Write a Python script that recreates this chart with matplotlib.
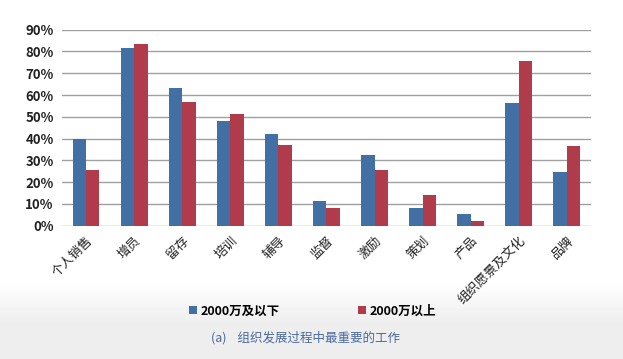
import numpy as np
import matplotlib
matplotlib.use('Agg')
import matplotlib.pyplot as plt
from matplotlib.ticker import FuncFormatter

plt.rcParams['font.family'] = ['Noto Sans CJK SC', 'DejaVu Sans']

# data (percent)
categories = ['个人销售', '增员', '留存', '培训', '辅导', '监督', '激励', '策划', '产品', '组织愿景及文化', '品牌']
below_2000 = [40.0, 81.7, 63.2, 48.1, 42.0, 11.2, 32.5, 8.1, 5.4, 56.3, 24.7]
above_2000 = [25.6, 83.4, 56.8, 51.4, 37.2, 8.3, 25.4, 14.0, 2.3, 75.5, 36.7]
series_names = ['2000万及以下', '2000万以上']
yticks = np.arange(0, 91, 10)

blue = '#4270a4'
red = '#b03c4b'

fig = plt.figure(figsize=(6.23, 3.59), dpi=100)

# light gray gradient at the bottom of the page
bg = fig.add_axes([0, 0, 1, 1], zorder=-1)
grad = np.ones((359, 1))
for i in range(359):
    if i > 280:
        grad[i] = 1 - min((i - 280) / 45.0, 1) * 0.07
bg.imshow(grad, aspect='auto', cmap='gray', vmin=0, vmax=1, extent=[0, 1, 0, 1])
bg.axis('off')

ax = fig.add_axes([0.0995, 0.3713, 0.8491, 0.546])
ax.patch.set_alpha(0)
x = np.arange(len(categories))
w = 0.28
ax.bar(x - w / 2, below_2000, w, color=blue, label=series_names[0], zorder=3)
ax.bar(x + w / 2, above_2000, w, color=red, label=series_names[1], zorder=3)

ax.set_xlim(-0.5, len(categories) - 0.5)
ax.set_ylim(0, 90)
ax.set_yticks(yticks)
ax.yaxis.set_major_formatter(FuncFormatter(lambda v, p: '%d%%' % v))
ax.grid(axis='y', color='#a0a0a0', linewidth=1, zorder=0)
for s in ax.spines.values():
    s.set_visible(False)
ax.tick_params(length=0)
ax.tick_params(axis='y', labelsize=9.5, pad=6, labelcolor='#222222')
for t in ax.get_yticklabels():
    t.set_fontweight('bold')
ax.set_xticks(x)
ax.set_xticklabels(categories, rotation=45, ha='right', rotation_mode='anchor',
                   fontsize=9.2, color='#222222')
ax.tick_params(axis='x', pad=6)

leg = fig.legend(loc='center', bbox_to_anchor=(0.502, 0.134), ncol=2, frameon=False,
                 fontsize=9, handlelength=0.6, handleheight=0.6, handletextpad=0.3,
                 columnspacing=6.3)
for t in leg.get_texts():
    t.set_fontweight('bold')

fig.text(0.49, 0.058, '(a)    组织发展过程中最重要的工作', ha='center', va='center',
         fontsize=9, color='#4a6a9c')

plt.savefig('out.png', dpi=100)
